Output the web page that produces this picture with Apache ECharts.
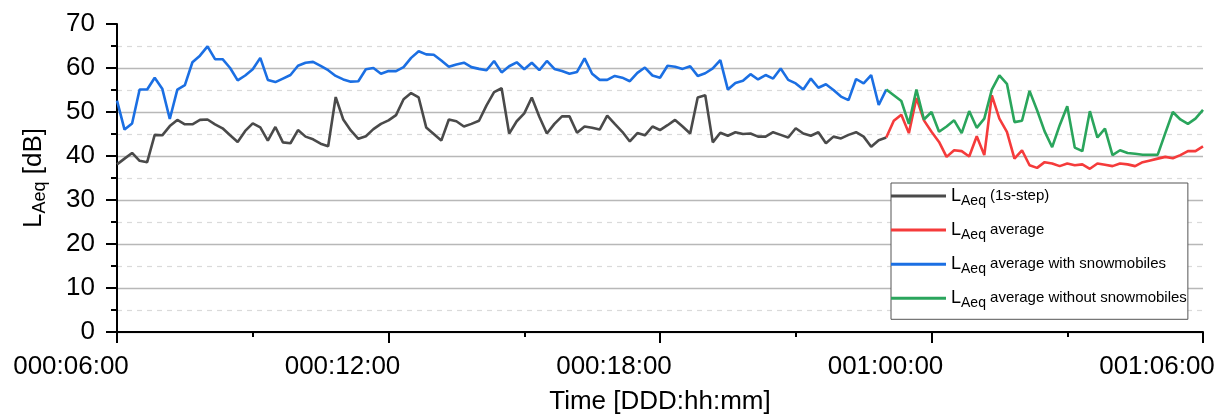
<!DOCTYPE html>
<html>
<head>
<meta charset="utf-8">
<script src="https://cdn.jsdelivr.net/npm/echarts@6/dist/echarts.min.js"></script>
<style>
html,body{margin:0;padding:0;background:#fff;}
#chart{width:1225px;height:414px;}
</style>
</head>
<body>
<div id="chart"></div>
<script>
// ---- data (10-minute samples starting at 000:06:00) ----
const startMinute = 360;
const stepMinutes = 10;
const xTickLabels = ['000:06:00', '000:12:00', '000:18:00', '001:00:00', '001:06:00'];
const yTickLabels = ['0', '10', '20', '30', '40', '50', '60', '70'];
const seriesNames = ['LAeq (1s-step)', 'LAeq average', 'LAeq average with snowmobiles', 'LAeq average without snowmobiles'];
const legendSuffix = ['(1s-step)', 'average', 'average with snowmobiles', 'average without snowmobiles'];

const grayValues = [
  38.1, 39.4, 40.7, 38.9, 38.6, 44.8, 44.7, 46.8, 48.2, 47.2,
  47.2, 48.2, 48.3, 47.2, 46.3, 44.7, 43.2, 45.7, 47.4, 46.5,
  43.5, 46.6, 43.1, 42.9, 45.9, 44.4, 43.8, 42.8, 42.2, 53.4,
  48.3, 45.8, 43.9, 44.5, 46.1, 47.3, 48.1, 49.3, 52.9, 54.3,
  53.3, 46.5, 45.0, 43.5, 48.3, 47.9, 46.7, 47.3, 48.0, 51.5,
  54.5, 55.4, 45.1, 47.9, 49.7, 53.3, 48.9, 45.1, 47.3, 49.0,
  49.0, 45.3, 46.7, 46.4, 46.0, 49.2, 47.3, 45.5, 43.3, 45.2,
  44.7, 46.7, 45.9, 47.0, 48.2, 46.7, 45.1, 53.3, 53.8, 43.1,
  45.3, 44.6, 45.4, 45.0, 45.1, 44.4, 44.4, 45.4, 44.8, 44.2,
  46.3, 45.1, 44.6, 45.4, 42.9, 44.4, 44.0, 44.8, 45.4, 44.4,
  42.1, 43.6, 44.2
];
const blueValues = [
  52.6, 46.0, 47.4, 55.1, 55.1, 57.8, 55.3, 48.4, 55.1, 56.1,
  61.3, 62.8, 64.9, 62.0, 62.0, 60.0, 57.2, 58.3, 59.7, 62.3,
  57.3, 56.8, 57.6, 58.4, 60.5, 61.2, 61.4, 60.5, 59.5, 58.2,
  57.4, 56.9, 57.0, 59.7, 60.0, 58.7, 59.3, 59.3, 60.2, 62.3,
  63.8, 63.1, 63.0, 61.7, 60.3, 60.8, 61.2, 60.2, 59.8, 59.5,
  61.6, 59.0, 60.4, 61.3, 59.7, 61.2, 59.5, 61.6, 59.8, 59.3,
  58.7, 59.1, 62.2, 58.7, 57.3, 57.3, 58.2, 57.8, 57.0, 58.9,
  60.1, 58.3, 57.8, 60.5, 60.3, 59.8, 60.4, 58.2, 58.8, 59.9,
  61.8, 55.1, 56.6, 57.1, 58.6, 57.4, 58.4, 57.6, 59.9, 57.3,
  56.5, 55.1, 57.6, 55.5, 56.3, 55.0, 53.5, 52.7, 57.5, 56.5,
  58.4, 51.6, 55.1
];
// second part starts at sample index 102
const secondStartIndex = 102;
const redValues = [
  44.2, 48.0, 49.4, 45.2, 53.2, 48.1, 45.5, 43.2, 39.8, 41.3,
  41.1, 39.9, 44.5, 40.2, 53.8, 48.5, 45.5, 39.4, 41.3, 37.9,
  37.3, 38.6, 38.3, 37.7, 38.3, 37.9, 38.1, 37.1, 38.3, 38.0,
  37.7, 38.3, 38.1, 37.7, 38.6, 39.0, 39.4, 39.8, 39.5, 40.2,
  41.1, 41.1, 42.2
];
const greenValues = [
  55.1, 53.8, 52.5, 47.3, 55.1, 48.3, 50.0, 45.5, 46.7, 48.1,
  45.2, 50.2, 46.4, 48.5, 55.1, 58.3, 56.4, 47.7, 48.0, 54.8,
  50.4, 45.6, 42.0, 47.0, 51.3, 41.9, 41.1, 50.2, 44.2, 46.2,
  40.2, 41.3, 40.7, 40.5, 40.3, 40.3, 40.3, 45.2, 50.0, 48.3,
  47.3, 48.5, 50.5
];

function toPairs(values, firstIndex) {
  return values.map((v, k) => [startMinute + (firstIndex + k) * stepMinutes, v]);
}

const FONT = '"Liberation Sans", Arial, sans-serif';
const colors = ['#4a4a4a', '#f53b3b', '#1b6fe3', '#2aa55c'];

const chart = echarts.init(document.getElementById('chart'), null, {renderer: 'canvas'});

const lineSeries = (name, data, color) => ({
  name: name,
  type: 'line',
  data: data,
  showSymbol: false,
  symbol: 'none',
  lineStyle: {color: color, width: 2.6},
  itemStyle: {color: color},
  animation: false
});

chart.setOption({
  backgroundColor: '#fff',
  animation: false,
  grid: {left: 117, right: 22, top: 24, bottom: 82, containLabel: false, outerBoundsMode: 'none'},
  xAxis: {
    type: 'value',
    min: 360, max: 1800, interval: 360,
    name: 'Time [DDD:hh:mm]',
    nameLocation: 'middle',
    nameGap: 57,
    nameTextStyle: {fontFamily: FONT, fontSize: 26, color: '#000'},
    axisLine: {show: true, onZero: false, lineStyle: {color: '#000', width: 2}},
    axisTick: {show: true, inside: false, length: 11, lineStyle: {color: '#000', width: 2}},
    minorTick: {show: true, splitNumber: 2, length: 5, lineStyle: {color: '#000', width: 2}},
    splitLine: {show: false},
    axisLabel: {
      fontFamily: FONT, fontSize: 26, color: '#000', margin: 22,
      hideOverlap: false,
      showMinLabel: true, showMaxLabel: true,
      padding: [0, 92, 0, 0],
      formatter: v => xTickLabels[Math.round((v - 360) / 360)] || ''
    }
  },
  yAxis: {
    type: 'value',
    min: 0, max: 70, interval: 10,
    name: '{L|L}{s|Aeq}{t| [dB]}',
    nameLocation: 'middle',
    nameGap: 68,
    nameTextStyle: {
      fontFamily: FONT, color: '#000',
      rich: {
        L: {fontFamily: FONT, fontSize: 26, lineHeight: 30, color: '#000'},
        s: {fontFamily: FONT, fontSize: 18, lineHeight: 14, verticalAlign: 'bottom', color: '#000'},
        t: {fontFamily: FONT, fontSize: 26, lineHeight: 30, color: '#000'}
      }
    },
    axisLine: {show: true, lineStyle: {color: '#000', width: 2}},
    axisTick: {show: true, inside: false, length: 11, lineStyle: {color: '#000', width: 2}},
    minorTick: {show: true, splitNumber: 2, length: 6, lineStyle: {color: '#000', width: 2}},
    splitLine: {show: true, showMaxLine: false, lineStyle: {color: '#b8b8b8', width: 1.3}},
    minorSplitLine: {show: true, lineStyle: {color: '#dadada', width: 1.2, type: [5, 5]}},
    axisLabel: {
      fontFamily: FONT, fontSize: 26, color: '#000', margin: 22,
      formatter: v => yTickLabels[Math.round(v / 10)]
    }
  },
  legend: {
    show: true,
    orient: 'vertical',
    left: 891, top: 183,
    padding: [4, 1, 9, 0],
    itemGap: 13.1,
    itemWidth: 55, itemHeight: 3,
    icon: 'rect',
    backgroundColor: '#fff',
    borderColor: '#555',
    borderWidth: 1,
    borderRadius: 0,
    data: seriesNames,
    formatter: name => '{L|L}{s|Aeq}{t| ' + legendSuffix[seriesNames.indexOf(name)] + '}',
    textStyle: {
      fontFamily: FONT, color: '#000',
      rich: {
        L: {fontFamily: FONT, fontSize: 18, lineHeight: 24, color: '#000'},
        s: {fontFamily: FONT, fontSize: 14, lineHeight: 10, verticalAlign: 'bottom', color: '#000'},
        t: {fontFamily: FONT, fontSize: 15, lineHeight: 24, verticalAlign: 'middle', color: '#000'}
      }
    }
  },
  series: [
    lineSeries(seriesNames[0], toPairs(grayValues, 0), colors[0]),
    lineSeries(seriesNames[1], toPairs(redValues, secondStartIndex), colors[1]),
    lineSeries(seriesNames[2], toPairs(blueValues, 0), colors[2]),
    lineSeries(seriesNames[3], toPairs(greenValues, secondStartIndex), colors[3])
  ]
});
</script>
</body>
</html>
